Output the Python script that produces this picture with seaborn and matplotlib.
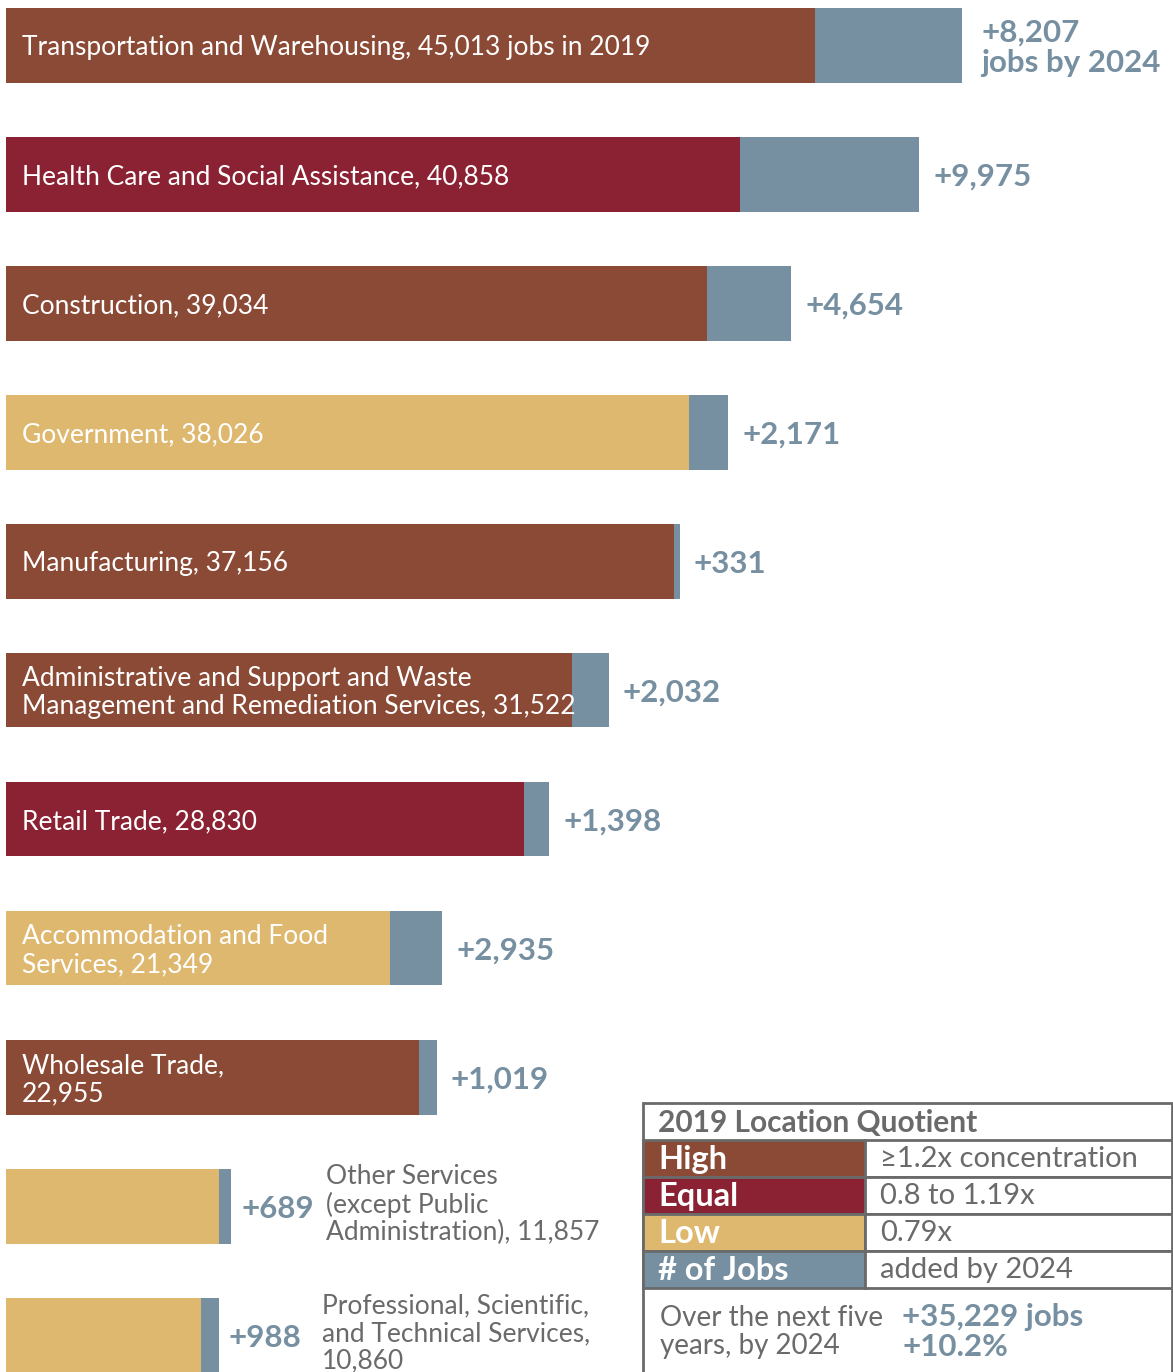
"""Job growth by industry, 2019 -> 2024, coloured by location quotient."""
import matplotlib.pyplot as plt
import pandas as pd
import seaborn as sns
from matplotlib.patches import Rectangle

# ── palette ───────────────────────────────────────────────────────────
BROWN = "#8A4A35"
RED = "#8B2233"
GOLD = "#DFB870"
BLUE = "#768FA1"
GREY = "#6A6A6A"
LQ_COLORS = {"High": BROWN, "Equal": RED, "Low": GOLD}

LIGHT = ["Lato", "DejaVu Sans"]
BOLD = ["Lato", "DejaVu Sans"]

# ── data ──────────────────────────────────────────────────────────────
industries = [
    "Transportation and Warehousing",
    "Health Care and Social Assistance",
    "Construction",
    "Government",
    "Manufacturing",
    "Administrative and Support and Waste Management and Remediation Services",
    "Retail Trade",
    "Accommodation and Food Services",
    "Wholesale Trade",
    "Other Services (except Public Administration)",
    "Professional, Scientific, and Technical Services",
]
jobs_2019 = [45013, 40858, 39034, 38026, 37156, 31522, 28830, 21349, 22955, 11857, 10860]
jobs_added = [8207, 9975, 4654, 2171, 331, 2032, 1398, 2935, 1019, 689, 988]
lq_level = ["High", "Equal", "High", "Low", "High", "High", "Equal", "Low", "High", "Low", "Low"]

# labels drawn inside the bars (None = label goes outside)
inside_labels = [
    "Transportation and Warehousing, 45,013 jobs in 2019",
    "Health Care and Social Assistance, 40,858",
    "Construction, 39,034",
    "Government, 38,026",
    "Manufacturing, 37,156",
    "Administrative and Support and Waste\nManagement and Remediation Services, 31,522",
    "Retail Trade, 28,830",
    "Accommodation and Food\nServices, 21,349",
    "Wholesale Trade,\n22,955",
    None,
    None,
]
outside_labels = {
    9: "Other Services\n(except Public\nAdministration), 11,857",
    10: "Professional, Scientific,\nand Technical Services,\n10,860",
}
added_labels = [f"+{v:,}" for v in jobs_added]
added_labels[0] = "+8,207\njobs by 2024"

legend_rows = [("High", BROWN, "\u22651.2x concentration"),
               ("Equal", RED, "0.8 to 1.19x"),
               ("Low", GOLD, "0.79x"),
               ("# of Jobs", BLUE, "added by 2024")]
total_added = "+35,229 jobs\n+10.2%"

df = pd.DataFrame({
    "industry": industries,
    "base": jobs_2019,
    "total": [b + a for b, a in zip(jobs_2019, jobs_added)],
})

# ── figure ────────────────────────────────────────────────────────────
W, H = 1173, 1372
fig = plt.figure(figsize=(W / 100, H / 100), dpi=100)
ax = fig.add_axes([0, 0, 1, 1])

BAR_W = 75 / 129
sns.barplot(data=df, y="industry", x="total", orient="h", color=BLUE,
            width=BAR_W, linewidth=0, saturation=1, ax=ax)
sns.barplot(data=df, y="industry", x="base", orient="h", hue="industry",
            palette=[LQ_COLORS[l] for l in lq_level], legend=False,
            width=BAR_W, linewidth=0, saturation=1, ax=ax)

PX = 0.01797  # pixels per job
ax.set_xlim(-6 / PX, (W - 6) / PX)
ax.set_ylim((H - 45) / 129, -45 / 129)
ax.axis("off")

for i, row in df.iterrows():
    if inside_labels[i]:
        ax.text(16 / PX, i + 0.02, inside_labels[i], color="white", fontsize=19,
                family=LIGHT, va="center", ha="left", linespacing=1.15)
    off = 14 / PX if i > 0 else 19 / PX
    if i >= 9:
        off = 10 / PX
    ax.text(row["total"] + off, i + 0.02, added_labels[i],
            color=BLUE, fontsize=22.5, family=BOLD, fontweight="bold",
            va="center", ha="left", linespacing=1.12)
    if i in outside_labels:
        ax.text(row["total"] + (95 if i == 9 else 103) / PX, i - 0.01, outside_labels[i],
                color=GREY, fontsize=19, family=LIGHT,
                va="center", ha="left", linespacing=1.12)

# ── legend table (pixel coordinates) ─────────────────────────────────
tab = fig.add_axes([0, 0, 1, 1], zorder=3)
tab.set_xlim(0, W)
tab.set_ylim(H, 0)
tab.axis("off")
tab.patch.set_alpha(0)

x0, x1, xm = 643, 1172, 865
tab.add_patch(Rectangle((x0, 1103), x1 - x0, H - 1103 + 5, facecolor="white",
                        edgecolor=GREY, linewidth=2))
tab.text(658, 1123, "2019 Location Quotient", color=GREY, fontsize=21.5,
         family=BOLD, fontweight="bold", va="center")
y = 1140
for name, col, desc in legend_rows:
    tab.add_patch(Rectangle((x0, y), xm - x0, 37, facecolor=col,
                            edgecolor=GREY, linewidth=2))
    tab.add_patch(Rectangle((xm, y), x1 - xm, 37, facecolor="white",
                            edgecolor=GREY, linewidth=2))
    tab.text(658, y + 19.5, name, color="white", fontsize=23.5, family=BOLD,
             fontweight="bold", va="center")
    tab.text(880, y + 19, desc, color=GREY, fontsize=21, family=LIGHT,
             va="center")
    y += 37
tab.text(660, 1332, "Over the next five\nyears, by 2024", color=GREY,
         fontsize=20, family=LIGHT, va="center", linespacing=1.1)
tab.text(902, 1332, total_added, color=BLUE, fontsize=22.5, family=BOLD,
         fontweight="bold", va="center", linespacing=1.05)

fig.savefig("out.png", dpi=100)
